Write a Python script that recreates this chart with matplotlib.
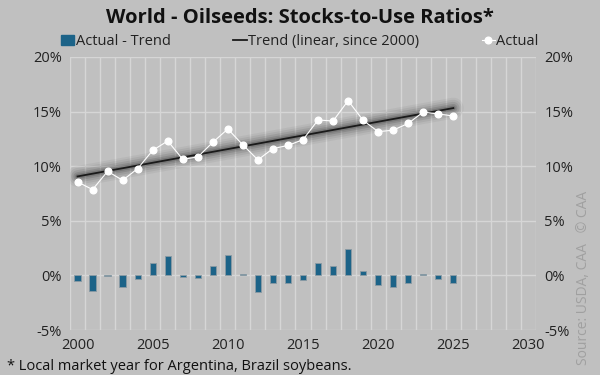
import matplotlib
matplotlib.use("Agg")
import matplotlib.pyplot as plt
import numpy as np
from matplotlib.lines import Line2D
from matplotlib.patches import Patch

plt.rcParams['font.family'] = ['Open Sans', 'DejaVu Sans']

years = np.arange(2000, 2026)
actual = [8.56, 7.86, 9.53, 8.71, 9.78, 11.45, 12.31, 10.63, 10.85, 12.19,
          13.41, 11.95, 10.58, 11.61, 11.90, 12.43, 14.23, 14.14, 16.00, 14.20,
          13.16, 13.30, 13.92, 14.96, 14.78, 14.60]

# linear trend since 2000, bars are actual minus trend
coef = np.polyfit(years, actual, 1)
trend = np.polyval(coef, years)
diff = np.array(actual) - trend

bg = '#c0c0c0'
grid_c = '#d6d6d6'
bar_c = '#1c6388'

fig = plt.figure(figsize=(6, 3.75), dpi=100, facecolor=bg)
ax = fig.add_axes([0.1167, 0.12, 0.7766, 0.728], facecolor=bg)

# grid: horizontal every 5%, vertical between years
for yv in range(-5, 21, 5):
    ax.axhline(yv, color=grid_c, lw=1, zorder=0)
for xv in np.arange(1999.5, 2031, 1):
    ax.axvline(xv, color=grid_c, lw=1, zorder=0)

ax.bar(years, diff, width=0.42, color=bar_c, edgecolor='#8a9aa3', linewidth=0.6, zorder=2)

# soft shadow around trend line
for lw, a in [(15, 0.05), (12, 0.07), (9, 0.1), (6, 0.14), (3.5, 0.18)]:
    ax.plot(years, trend, color='#202020', lw=lw, alpha=a, solid_capstyle='round', zorder=3)
ax.plot(years, trend, color='#1a1a1a', lw=1.3, zorder=4)

ax.plot(years, actual, color='white', lw=0.8, marker='o', markersize=4.8,
        markerfacecolor='white', markeredgecolor='white', zorder=5)

ax.set_xlim(1999.5, 2030.5)
ax.set_ylim(-5, 20)
ax.set_xticks(range(2000, 2031, 5))
ax.set_yticks(range(-5, 21, 5))
ax.set_yticklabels([f'{v}%' for v in range(-5, 21, 5)])
ax.tick_params(length=0, labelsize=10.5, colors='#222222', pad=6)
ax.tick_params(axis='y', labelright=True)
for s in ax.spines.values():
    s.set_visible(False)

fig.text(0.5, 0.952, 'World - Oilseeds: Stocks-to-Use Ratios*', ha='center', va='center',
         fontsize=14.5, fontweight='bold', color='#111111')

handles = [Patch(facecolor=bar_c, edgecolor=bar_c),
           Line2D([0], [0], color='#1a1a1a', lw=1.3),
           Line2D([0], [0], color='white', lw=0.8, marker='o', markersize=4.8)]
labels = ['Actual - Trend', 'Trend (linear, since 2000)', 'Actual']
fig.legend(handles, labels, loc='center', bbox_to_anchor=(0.5, 0.89), ncol=3, frameon=False,
           fontsize=10.5, handlelength=0.9, handletextpad=0.1, columnspacing=4.3,
           labelcolor='#222222')

fig.text(0.012, 0.024, '* Local market year for Argentina, Brazil soybeans.', ha='left', va='center',
         fontsize=10.5, color='#111111')
fig.text(0.973, 0.258, 'Source: USDA, CAA   \u00a9 CAA', rotation=90, ha='center', va='center',
         fontsize=10, color='#a0a0a0')

fig.savefig('out.png', dpi=100, facecolor=bg)
